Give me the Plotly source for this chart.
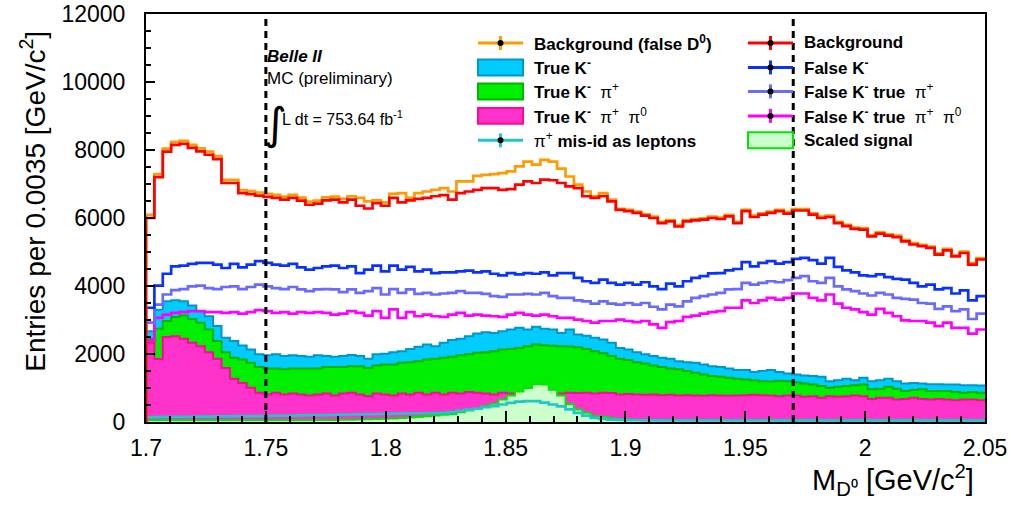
import numpy as np
import plotly.graph_objects as go

# 100 bins of 0.0035 GeV/c^2 between 1.70 and 2.05
edges = np.round(np.linspace(1.70, 2.05, 101), 5)

background = [
    6000, 7200, 7950, 8150, 8180, 8060, 7960, 7860, 7730, 7030,
    7030, 6730, 6700, 6660, 6620, 6590, 6540, 6590, 6510, 6390,
    6420, 6520, 6540, 6460, 6540, 6360, 6280, 6440, 6360, 6590,
    6460, 6520, 6560, 6590, 6640, 6670, 6540, 6730, 6780, 6830,
    6880, 6880, 6830, 6850, 6980, 7080, 7030, 7130, 7110, 7030,
    6930, 6880, 6640, 6590, 6640, 6490, 6240, 6200, 6150, 6070,
    6000, 5850, 5900, 5750, 5900, 5930, 5950, 6000, 5970, 6050,
    5850, 6200, 6030, 6100, 6150, 6200, 6130, 6220, 6220, 6100,
    6000, 6030, 5850, 5760, 5680, 5660, 5460, 5540, 5480, 5440,
    5310, 5220, 5170, 5120, 4920, 5050, 4870, 4970, 4630, 4780,
]

background_false_d0 = [
    6090, 7290, 8040, 8240, 8270, 8150, 8050, 7950, 7820, 7120,
    7120, 6820, 6790, 6750, 6710, 6680, 6630, 6680, 6600, 6480,
    6510, 6610, 6630, 6560, 6640, 6590, 6490, 6520, 6460, 6710,
    6730, 6590, 6730, 6780, 6830, 6880, 6780, 7080, 7080, 7240,
    7270, 7290, 7320, 7370, 7520, 7660, 7570, 7710, 7660, 7450,
    7220, 6980, 6780, 6640, 6730, 6540, 6270, 6240, 6190, 6110,
    6040, 5890, 5940, 5790, 5940, 5970, 5990, 6040, 6010, 6090,
    5890, 6240, 6070, 6140, 6190, 6240, 6170, 6260, 6260, 6140,
    6040, 6070, 5890, 5800, 5720, 5700, 5500, 5580, 5520, 5480,
    5350, 5260, 5210, 5160, 4960, 5090, 4910, 5010, 4670, 4820,
]

false_k = [
    3360, 4010, 4360, 4580, 4600, 4650, 4680, 4680, 4630, 4530,
    4650, 4550, 4630, 4730, 4680, 4630, 4600, 4650, 4550, 4480,
    4530, 4580, 4600, 4530, 4580, 4380, 4480, 4600, 4430, 4600,
    4480, 4560, 4430, 4480, 4380, 4400, 4400, 4430, 4450, 4400,
    4430, 4360, 4310, 4380, 4340, 4380, 4360, 4400, 4310, 4380,
    4380, 4240, 4140, 4090, 4190, 4090, 4040, 4090, 4040, 4110,
    3990, 3910, 4070, 3990, 4140, 4240, 4290, 4370, 4380, 4460,
    4500, 4700, 4580, 4680, 4730, 4660, 4700, 4800, 4830, 4760,
    4660, 4830, 4560, 4460, 4400, 4310, 4290, 4340, 4260, 4210,
    4190, 4090, 3990, 4040, 3900, 3940, 3780, 3870, 3580, 3700,
]

false_k_true_pi = [
    2920, 3450, 3750, 3880, 3910, 3990, 4010, 3940, 3910, 3970,
    3990, 3910, 3970, 4040, 3990, 3940, 3910, 3970, 3900, 3850,
    3900, 3910, 3900, 3820, 3900, 3800, 3850, 3940, 3750, 3910,
    3800, 3900, 3770, 3800, 3750, 3780, 3800, 3850, 3800, 3800,
    3770, 3700, 3680, 3750, 3750, 3770, 3750, 3800, 3700, 3650,
    3650, 3580, 3550, 3480, 3550, 3480, 3450, 3500, 3450, 3500,
    3390, 3310, 3450, 3400, 3550, 3650, 3700, 3750, 3800, 3900,
    3910, 4090, 4040, 4090, 4140, 4110, 4170, 4240, 4290, 4140,
    4090, 4240, 3990, 3900, 3850, 3780, 3720, 3800, 3750, 3650,
    3620, 3600, 3500, 3480, 3330, 3400, 3260, 3310, 3030, 3190,
]

false_k_true_pi_pi0 = [
    2400, 3060, 3160, 3210, 3230, 3260, 3260, 3230, 3230, 3210,
    3230, 3190, 3230, 3290, 3260, 3210, 3230, 3190, 3230, 3210,
    3230, 3210, 3160, 3190, 3260, 3210, 3130, 3260, 3060, 3310,
    3060, 3230, 3110, 3160, 3110, 3090, 3160, 3210, 3130, 3160,
    3130, 3110, 3090, 3160, 3210, 3160, 3130, 3160, 3110, 3060,
    3060, 3010, 2970, 2920, 2970, 2970, 3010, 2970, 2940, 2970,
    2870, 2770, 2940, 2970, 3090, 3130, 3190, 3230, 3260, 3360,
    3360, 3580, 3500, 3580, 3650, 3600, 3650, 3780, 3780, 3650,
    3580, 3750, 3480, 3360, 3310, 3230, 3160, 3330, 3210, 3110,
    2990, 2970, 2970, 2920, 2820, 2920, 2770, 2770, 2600, 2720,
]

true_k = [
    2670, 3300, 3550, 3580, 3550, 3430, 3260, 3110, 2820, 2480,
    2380, 2250, 2130, 1990, 1960, 1990, 1940, 1960, 1940, 1920,
    1960, 1940, 1920, 1940, 1970, 1940, 1860, 1990, 2010, 2050,
    2080, 2150, 2210, 2280, 2230, 2330, 2410, 2450, 2520, 2600,
    2640, 2620, 2670, 2720, 2770, 2720, 2800, 2740, 2720, 2620,
    2720, 2570, 2540, 2480, 2430, 2330, 2180, 2130, 2050, 1990,
    1940, 1890, 1860, 1790, 1760, 1740, 1690, 1640, 1620, 1570,
    1530, 1530, 1470, 1500, 1530, 1470, 1430, 1400, 1370, 1350,
    1330, 1200, 1230, 1270, 1230, 1300, 1200, 1230, 1270, 1200,
    1130, 1150, 1130, 1110, 1110, 1100, 1100, 1080, 1080, 1070,
]

true_k_pi = [
    2450, 2740, 2970, 3090, 3130, 3030, 2920, 2720, 2380, 2050,
    1890, 1840, 1740, 1620, 1570, 1570, 1550, 1570, 1570, 1570,
    1570, 1620, 1620, 1620, 1640, 1640, 1590, 1660, 1690, 1690,
    1740, 1760, 1790, 1840, 1860, 1890, 1920, 1960, 1990, 2040,
    2050, 2080, 2130, 2150, 2180, 2230, 2280, 2260, 2240, 2230,
    2220, 2200, 2150, 2080, 2020, 1940, 1860, 1820, 1760, 1720,
    1660, 1620, 1570, 1550, 1500, 1450, 1400, 1350, 1330, 1300,
    1270, 1250, 1230, 1200, 1190, 1210, 1200, 1170, 1130, 1100,
    1060, 1010, 1040, 1060, 1080, 1100, 960, 980, 1040, 980,
    910, 940, 960, 910, 910, 910, 880, 860, 880, 860,
]

true_k_pi_pi0 = [
    2330, 1850, 2500, 2520, 2450, 2330, 2230, 2050, 1860, 1590,
    1270, 1150, 1010, 860, 810, 860, 810, 840, 810, 780,
    810, 840, 780, 840, 860, 810, 760, 840, 810, 780,
    840, 810, 860, 810, 860, 810, 860, 840, 880, 860,
    840, 810, 860, 840, 820, 830, 820, 830, 820, 840,
    860, 850, 860, 840, 860, 850, 810, 820, 810, 800,
    810, 790, 800, 780, 790, 780, 770, 790, 780, 770,
    780, 790, 800, 790, 780, 760, 780, 780, 740, 760,
    710, 760, 740, 760, 780, 760, 680, 710, 710, 660,
    680, 710, 680, 660, 680, 660, 640, 660, 660, 640,
]

pi_misid_leptons = [
    140, 145, 150, 150, 155, 155, 160, 160, 165, 165,
    170, 170, 175, 175, 180, 185, 185, 190, 195, 200,
    200, 205, 210, 215, 220, 225, 230, 235, 240, 245,
    250, 252, 255, 258, 262, 270, 290, 330, 365, 390,
    440, 465, 515, 565, 600, 612, 612, 570, 515, 460,
    370, 270, 190, 120, 90, 70, 60, 55, 52, 50,
    50, 50, 50, 48, 48, 47, 47, 46, 46, 45,
    45, 45, 44, 44, 44, 43, 43, 43, 42, 42,
    42, 42, 41, 41, 41, 40, 40, 40, 40, 40,
    40, 40, 40, 40, 40, 40, 40, 40, 40, 40,
]

scaled_signal = [
    55, 55, 55, 55, 55, 55, 55, 55, 55, 55,
    55, 55, 55, 55, 55, 55, 55, 55, 55, 55,
    58, 60, 62, 65, 68, 72, 78, 85, 95, 105,
    120, 135, 150, 170, 190, 210, 230, 290, 340, 390,
    480, 540, 660, 780, 900, 1000, 1110, 1100, 950, 780,
    520, 370, 270, 180, 150, 110, 90, 75, 65, 60,
    55, 55, 55, 55, 55, 55, 55, 55, 55, 55,
    55, 55, 55, 55, 55, 55, 55, 55, 55, 55,
    55, 55, 55, 55, 55, 55, 55, 55, 55, 55,
    55, 55, 55, 55, 55, 55, 55, 55, 55, 55,
]

cut_lines = [1.75, 1.97]

x_ticks = [1.7, 1.75, 1.8, 1.85, 1.9, 1.95, 2.0, 2.05]
x_tick_text = ["1.7", "1.75", "1.8", "1.85", "1.9", "1.95", "2", "2.05"]
y_ticks = [0, 2000, 4000, 6000, 8000, 10000, 12000]
y_tick_text = ["0", "2000", "4000", "6000", "8000", "10000", "12000"]

FONT = "Liberation Sans, Arial, Helvetica, sans-serif"


def step_xy(values):
    """Bin contents -> points for an 'hv' step path starting from the baseline."""
    xs = [edges[0]] + list(edges[:-1]) + [edges[-1]]
    ys = [0] + list(values) + [values[-1]]
    return xs, ys


fig = go.Figure()


def add_filled(values, fill, edge):
    xs, ys = step_xy(values)
    fig.add_trace(go.Scatter(
        x=xs, y=ys, mode="lines", line=dict(shape="hv", color=edge, width=2),
        fill="tozeroy", fillcolor=fill, hoverinfo="skip", showlegend=False))


def add_line(values, color, width=2.7):
    xs, ys = step_xy(values)
    fig.add_trace(go.Scatter(
        x=xs, y=ys, mode="lines", line=dict(shape="hv", color=color, width=width),
        hoverinfo="skip", showlegend=False))


C_TRUEK = ("#00ccff", "#0096c8")
C_TRUEKPI = ("#00ee00", "#00b400")
C_TRUEKPIPI0 = ("#ff33cc", "#ff0a8c")
C_SIGNAL = ("#ccffcc", "#00e600")
C_MISID = "#1ec8c8"
C_ORANGE = "#ff9a00"
C_RED = "#ff0000"
C_BLUE = "#0a32ff"
C_PURPLE = "#6a6aff"
C_MAGENTA = "#ff00ff"

add_filled(true_k, *C_TRUEK)
add_filled(true_k_pi, *C_TRUEKPI)
add_filled(true_k_pi_pi0, *C_TRUEKPIPI0)
add_filled(scaled_signal, *C_SIGNAL)
add_line(pi_misid_leptons, C_MISID)
add_line(false_k_true_pi_pi0, C_MAGENTA)
add_line(false_k_true_pi, C_PURPLE)
add_line(false_k, C_BLUE)
add_line(background_false_d0, C_ORANGE)
add_line(background, C_RED)

# frame geometry in pixels
L, R, T, B = 146, 985, 14, 422.5
W, H = 1011, 506


def px(x):
    return (x - L) / (R - L)


def py(y):
    return (B - y) / (B - T)


shapes = []
annotations = []

for xc in cut_lines:
    shapes.append(dict(type="line", xref="x", yref="paper", x0=xc, x1=xc, y0=0, y1=1,
                       line=dict(color="black", width=3, dash="7px,5px"), layer="above"))

rows = [43, 67.5, 91.5, 116, 140.5]


def legend_line(x0, x1, y, color):
    xm = (x0 + x1) / 2
    shapes.append(dict(type="line", xref="paper", yref="paper", x0=px(x0), x1=px(x1),
                       y0=py(y), y1=py(y), line=dict(color=color, width=3)))
    shapes.append(dict(type="line", xref="paper", yref="paper", x0=px(xm), x1=px(xm),
                       y0=py(y - 7), y1=py(y + 7), line=dict(color=color, width=3)))
    shapes.append(dict(type="circle", xref="paper", yref="paper", x0=px(xm - 3), x1=px(xm + 3),
                       y0=py(y + 3), y1=py(y - 3), fillcolor="black", line=dict(width=0)))


def legend_box(x0, x1, y, fill, edge):
    shapes.append(dict(type="rect", xref="paper", yref="paper", x0=px(x0), x1=px(x1),
                       y0=py(y + 8), y1=py(y - 8), fillcolor=fill, line=dict(color=edge, width=2)))


def legend_text(x, y, txt):
    annotations.append(dict(xref="paper", yref="paper", x=px(x), y=py(y), text=txt,
                            showarrow=False, xanchor="left", yanchor="middle",
                            font=dict(family=FONT, size=17, color="black")))


PI = "π"
col1 = [
    ("line", C_ORANGE, None, "<b>Background (false D<sup>0</sup>)</b>"),
    ("box", C_TRUEK[0], C_TRUEK[1], "<b>True K<sup>-</sup></b>"),
    ("box", C_TRUEKPI[0], C_TRUEKPI[1], f"<b>True K<sup>-</sup></b>  {PI}<sup>+</sup>"),
    ("box", C_TRUEKPIPI0[0], C_TRUEKPIPI0[1],
     f"<b>True K<sup>-</sup></b>  {PI}<sup>+</sup>  {PI}<sup>0</sup>"),
    ("line", C_MISID, None, f"{PI}<sup>+</sup> <b>mis-id as leptons</b>"),
]
col2 = [
    ("line", C_RED, None, "<b>Background</b>"),
    ("line", C_BLUE, None, "<b>False K<sup>-</sup></b>"),
    ("line", C_PURPLE, None, f"<b>False K<sup>-</sup> true</b>  {PI}<sup>+</sup>"),
    ("line", C_MAGENTA, None,
     f"<b>False K<sup>-</sup> true</b>  {PI}<sup>+</sup>  {PI}<sup>0</sup>"),
    ("box", C_SIGNAL[0], C_SIGNAL[1], "<b>Scaled signal</b>"),
]

for (x0, x1, xt), entries in (((478, 523, 532), col1), ((748, 793, 802), col2)):
    for y, (kind, c1, c2, txt) in zip(rows, entries):
        if kind == "line":
            legend_line(x0, x1, y, c1)
        else:
            legend_box(x0, x1, y, c1, c2)
        legend_text(xt, y, txt)

# experiment labels
annotations += [
    dict(xref="paper", yref="paper", x=px(265), y=py(57), text="<b><i>Belle II</i></b>",
         showarrow=False, xanchor="left", yanchor="middle",
         font=dict(family=FONT, size=17, color="black")),
    dict(xref="paper", yref="paper", x=px(265), y=py(79), text="MC (preliminary)",
         showarrow=False, xanchor="left", yanchor="middle",
         font=dict(family=FONT, size=17, color="black")),
    dict(xref="paper", yref="paper", x=px(262), y=py(124), text="∫",
         showarrow=False, xanchor="left", yanchor="middle",
         font=dict(family="DejaVu Sans, sans-serif", size=44, color="black")),
    dict(xref="paper", yref="paper", x=px(280), y=py(118),
         text="L dt = 753.64 fb<sup>-1</sup>",
         showarrow=False, xanchor="left", yanchor="middle",
         font=dict(family=FONT, size=16, color="black")),
    # axis titles
    dict(xref="paper", yref="paper", x=px(33), y=py(202),
         text="Entries per 0.0035 [GeV/c<sup>2</sup>]", textangle=-90,
         showarrow=False, xanchor="center", yanchor="middle",
         font=dict(family=FONT, size=28, color="black")),
    dict(xref="paper", yref="paper", x=px(976), y=py(481),
         text="M<sub>D⁰</sub> [GeV/c<sup>2</sup>]",
         showarrow=False, xanchor="right", yanchor="middle",
         font=dict(family=FONT, size=29, color="black")),
]

fig.update_layout(
    width=W, height=H,
    margin=dict(l=L, r=W - R, t=T, b=H - B, autoexpand=False),
    paper_bgcolor="white", plot_bgcolor="white",
    shapes=shapes, annotations=annotations,
    xaxis=dict(range=[1.70, 2.05], tickvals=x_ticks, ticktext=x_tick_text,
               ticks="inside", ticklen=11, tickwidth=1.5, tickcolor="black",
               minor=dict(dtick=0.01, tick0=1.7, ticks="inside", ticklen=6, tickcolor="black"),
               showline=True, linecolor="black", linewidth=2, mirror=True,
               showgrid=False, zeroline=False, ticklabelstandoff=4, automargin=False,
               tickfont=dict(family=FONT, size=23, color="black")),
    yaxis=dict(range=[0, 12000], tickvals=y_ticks, ticktext=y_tick_text,
               ticks="inside", ticklen=9, tickwidth=1.5, tickcolor="black",
               minor=dict(dtick=500, tick0=0, ticks="inside", ticklen=5, tickcolor="black"),
               showline=True, linecolor="black", linewidth=2, mirror=True,
               showgrid=False, zeroline=False, ticklabelstandoff=14, automargin=False,
               tickfont=dict(family=FONT, size=23, color="black")),
)

fig.write_html("out.html")
